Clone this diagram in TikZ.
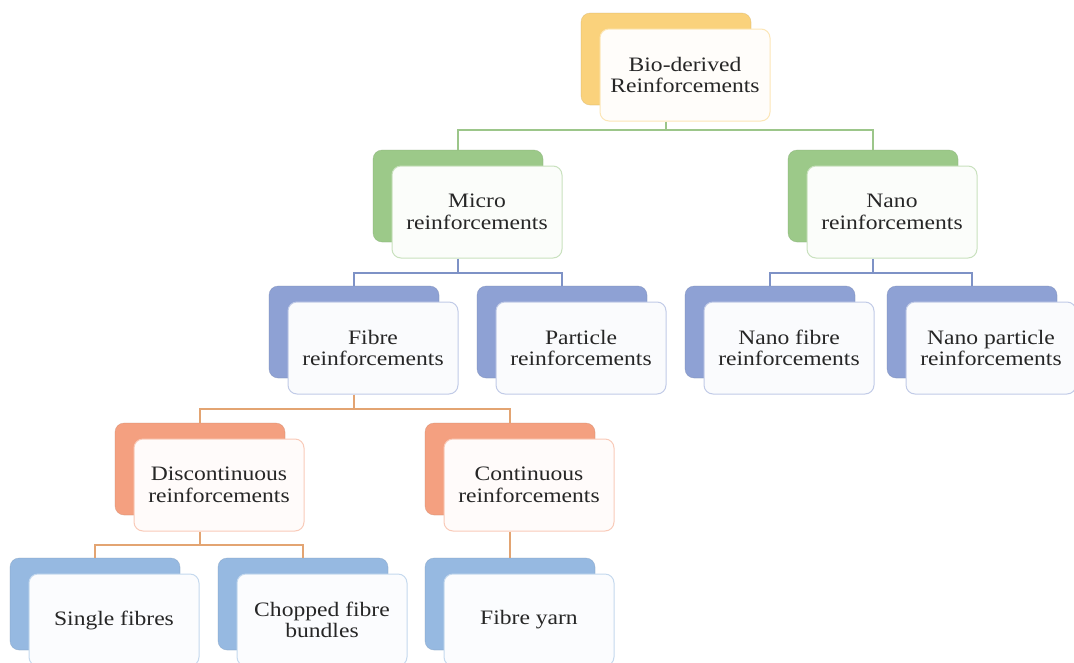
\documentclass[tikz,border=0pt]{standalone}
\usepackage{fontspec}
\setmainfont{Liberation Serif}[FakeStretch=1.15]
\definecolor{cgold}{HTML}{FAD27C}
\definecolor{cgreen}{HTML}{9CC989}
\definecolor{cblue}{HTML}{8EA1D4}
\definecolor{corange}{HTML}{F4A080}
\definecolor{clblue}{HTML}{96B9E1}
\definecolor{lgreen}{HTML}{9CC68A}
\definecolor{lblue}{HTML}{7E92C6}
\definecolor{lorange}{HTML}{E3A472}
\definecolor{textgray}{HTML}{262626}
\newcommand\nodefont{\fontsize{20.5}{21.5}\selectfont}
\tikzset{
  backbox/.style={rounded corners=9pt, minimum width=170pt, minimum height=92pt,
    inner sep=0pt, draw=#1!80!black, draw opacity=0.35, line width=0.6pt, fill=#1},
  frontbox/.style={rounded corners=9pt, minimum width=170pt, minimum height=92pt,
    inner sep=0pt, fill=#1!4!white, draw=#1!55!white, line width=1pt,
    align=center, font=\nodefont, text=textgray},
  link/.style={draw=#1, line width=1.4pt}
}
\newcommand\pairnode[5]{%
  \node[backbox=#2] (#1B) at ({#3+85},{#4+46}) {};
  \node[frontbox=#2] (#1) at ({#3+104},{#4+62}) {#5};
}
\begin{document}
\begin{tikzpicture}[x=1pt,y=-1pt]
\fill[white] (0,0) rectangle (1074,662);
\useasboundingbox (0,0) rectangle (1074,662);
\pairnode{bio}{cgold}{581}{13}{Bio-derived\\Reinforcements}
\pairnode{micro}{cgreen}{373}{150}{Micro\\reinforcements}
\pairnode{nano}{cgreen}{788}{150}{Nano\\reinforcements}
\pairnode{fibre}{cblue}{269}{286}{Fibre\\reinforcements}
\pairnode{particle}{cblue}{477}{286}{Particle\\reinforcements}
\pairnode{nfibre}{cblue}{685}{286}{Nano fibre\\reinforcements}
\pairnode{nparticle}{cblue}{887}{286}{Nano particle\\reinforcements}
\pairnode{disc}{corange}{115}{423}{Discontinuous\\reinforcements}
\pairnode{cont}{corange}{425}{423}{Continuous\\reinforcements}
\pairnode{single}{clblue}{10}{558}{Single fibres}
\pairnode{chopped}{clblue}{218}{558}{Chopped fibre\\bundles}
\pairnode{yarn}{clblue}{425}{558}{Fibre yarn}
\coordinate (y1) at (0,130);
\coordinate (y2) at (0,273);
\coordinate (y3) at (0,409);
\coordinate (y4) at (0,545);
\draw[link=lgreen] (bioB |- bio.south) -- (bioB |- y1) -| (microB.north);
\draw[link=lgreen] (bioB |- y1) -| (nanoB.north);
\draw[link=lblue] (microB |- micro.south) -- (microB |- y2) -| (fibreB.north);
\draw[link=lblue] (microB |- y2) -| (particleB.north);
\draw[link=lblue] (nanoB |- nano.south) -- (nanoB |- y2) -| (nfibreB.north);
\draw[link=lblue] (nanoB |- y2) -| (nparticleB.north);
\draw[link=lorange] (fibreB |- fibre.south) -- (fibreB |- y3) -| (discB.north);
\draw[link=lorange] (fibreB |- y3) -| (contB.north);
\draw[link=lorange] (discB |- disc.south) -- (discB |- y4) -| (singleB.north);
\draw[link=lorange] (discB |- y4) -| (choppedB.north);
\draw[link=lorange] (contB |- cont.south) -- (yarnB.north);
\end{tikzpicture}
\end{document}
